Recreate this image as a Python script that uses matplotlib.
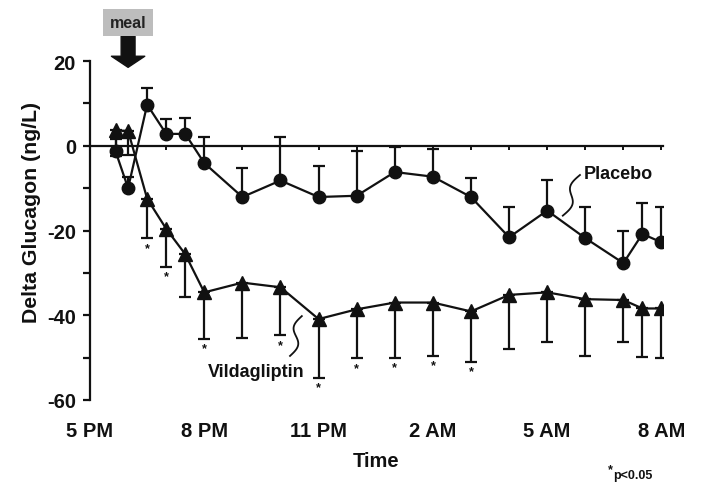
import numpy as np
import matplotlib
matplotlib.use("Agg")
import matplotlib.pyplot as plt
from matplotlib.ticker import MultipleLocator, FuncFormatter

plt.rcParams['font.family'] = ['Liberation Sans', 'DejaVu Sans']
plt.rcParams['font.weight'] = 'bold'
plt.rcParams['axes.labelweight'] = 'bold'

# hours after 5 PM
horas = [0.67, 1, 1.5, 2, 2.5, 3, 4, 5, 6, 7, 8, 9, 10, 11, 12, 13, 14, 14.5, 15]

placebo = [-1.3, -10.0, 9.7, 2.8, 2.8, -4.1, -12.1, -8.2, -12.1, -11.8, -6.2, -7.3,
           -12.1, -21.6, -15.3, -21.8, -27.7, -20.8, -22.8]
placebo_err = [3.0, 2.6, 3.9, 3.4, 3.8, 6.2, 6.8, 10.3, 7.4, 10.5, 6.0, 6.6,
               4.5, 7.2, 7.1, 7.4, 7.5, 7.3, 8.4]

vilda = [3.6, 3.5, -12.5, -19.6, -25.6, -34.6, -32.3, -33.4, -40.9, -38.6, -37.0, -37.0,
         -39.1, -35.2, -34.6, -36.2, -36.4, -38.4, -38.4]
vilda_err = [6.0, 5.8, 9.3, 9.0, 10.0, 10.9, 13.0, 11.3, 13.8, 11.6, 13.0, 12.6,
             11.9, 12.8, 11.7, 13.4, 9.9, 11.5, 11.6]
significativo = [False, False, True, True, False, True, False, True, True, True, True, True,
                 True, False, False, False, False, False, False]

etiquetas_x = ["5 PM", "8 PM", "11 PM", "2 AM", "5 AM", "8 AM"]
pos_x = [0, 3, 6, 9, 12, 15]

negro = '#111111'

fig = plt.figure(figsize=(7.01, 4.85), dpi=100)
ax = fig.add_axes([90/701, 1 - 401/485, 573/701, 339/485])

n = len(horas)
ax.errorbar(horas, placebo, yerr=[np.zeros(n), placebo_err], fmt='none',
            ecolor=negro, elinewidth=1.6, capsize=4, capthick=1.6, zorder=2)
ax.errorbar(horas, vilda, yerr=[vilda_err, np.zeros(n)], fmt='none',
            ecolor=negro, elinewidth=1.6, capsize=4, capthick=1.6, zorder=2)
ax.plot(horas, vilda, color=negro, lw=1.6, marker='^', ms=9.5, zorder=3)
ax.plot(horas, placebo, color=negro, lw=1.6, marker='o', ms=9, zorder=4)

# asteriscos de significancia
for h, v, e, s in zip(horas, vilda, vilda_err, significativo):
    if s:
        ax.annotate('*', xy=(h, v - e), xytext=(0, -7), textcoords='offset points',
                    ha='center', va='center', fontsize=9, color=negro)

# etiquetas de series con garabatos
def garabato(x0, y0, x1, y1, amp):
    t = np.linspace(0, 1, 60)
    xs = x0 + (x1 - x0) * t + amp * np.sin(2 * np.pi * t)
    ys = y0 + (y1 - y0) * t
    ax.plot(xs, ys, color=negro, lw=1.3, zorder=3)

garabato(12.86, -6.9, 12.41, -16.5, -0.13)
ax.text(12.95, -6.6, "Placebo", fontsize=13, va='center', ha='left', color=negro)
garabato(5.56, -40.2, 5.25, -49.6, -0.13)
ax.text(4.37, -53.3, "Vildagliptin", fontsize=13, va='center', ha='center', color=negro)

# ejes
ax.set_xlim(0, 15.04)
ax.set_ylim(-60, 20)
for s in ['top', 'right', 'bottom']:
    ax.spines[s].set_visible(False)
ax.spines['left'].set_linewidth(1.6)
ax.spines['left'].set_color(negro)
ax.yaxis.set_major_locator(MultipleLocator(10))
ax.yaxis.set_major_formatter(FuncFormatter(lambda v, p: f"{int(v)}" if v % 20 == 0 else ""))
ax.tick_params(axis='y', length=5, width=1.6, labelsize=14.5, pad=5, colors=negro)
ax.set_xticks(pos_x)
ax.set_xticklabels(etiquetas_x)
ax.tick_params(axis='x', length=0, labelsize=14.5, pad=15, colors=negro)
ax.set_xlabel("Time", fontsize=14.5, labelpad=8, color=negro)
ax.set_ylabel("Delta Glucagon (ng/L)", fontsize=15.3, color=negro)
ax.yaxis.set_label_coords(-0.085, 0.557)

# línea cero con marcas horarias
cero = ax.secondary_xaxis(0.75)
cero.set_alignment('bottom')
cero.set_xticks(np.arange(1, 16))
cero.set_xticklabels([])
cero.tick_params(axis='x', direction='out', length=3, width=1.4, colors=negro)
cero.spines['bottom'].set_linewidth(1.6)
cero.spines['bottom'].set_color(negro)

# comida
ax.annotate("meal", xy=(1.0, 18.5), xytext=(1.0, 29.1), textcoords='data',
            fontsize=11.5, ha='center', va='center', color='#222222', annotation_clip=False,
            bbox=dict(boxstyle='square,pad=0.4', fc='#bdbdbd', ec='none'),
            arrowprops=dict(arrowstyle='simple,head_length=0.8,head_width=2.4,tail_width=1.0',
                            mutation_scale=10, fc=negro, ec=negro, shrinkA=0, shrinkB=0))

fig.text(610/701, 1 - 470/485, "*", fontsize=9, ha='center', va='center', color=negro)
fig.text(613/701, 1 - 476/485, "p<0.05", fontsize=9, ha='left', va='center', color=negro)

fig.savefig("out.png", dpi=100)
